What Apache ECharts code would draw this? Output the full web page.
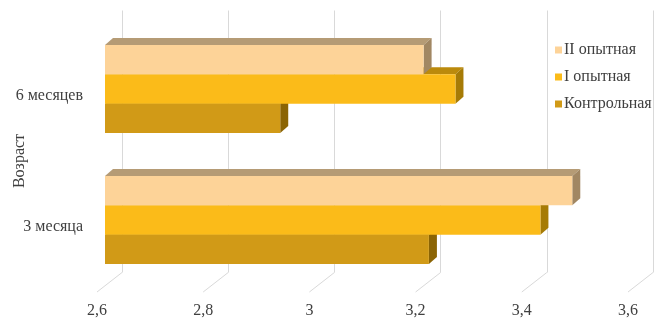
<!DOCTYPE html>
<html>
<head>
<meta charset="utf-8">
<script src="https://cdn.jsdelivr.net/npm/echarts@6/dist/echarts.min.js"></script>
<style>html,body{margin:0;padding:0;background:#fff}#c{width:668px;height:328px}</style>
</head>
<body>
<div id="c"></div>
<script>
var categories = ['3 месяца', '6 месяцев'];
var seriesNames = ['II опытная', 'I опытная', 'Контрольная'];
var valuesII = [3.48, 3.2];
var valuesI = [3.42, 3.26];
var valuesControl = [3.21, 2.93];
var xTicks = [2.6, 2.8, 3.0, 3.2, 3.4, 3.6];
var yAxisTitle = 'Возраст';

var FONT = '"Liberation Serif", "Times New Roman", serif';
var DX = 8, DY = -7; // bar depth (style)
var colors = {
  'II опытная': {front: '#FDD398', top: '#B59B75', side: '#A18763'},
  'I опытная': {front: '#FBBB19', top: '#BB8A0C', side: '#A67B06'},
  'Контрольная': {front: '#D19A17', top: '#9A7010', side: '#8B6404'}
};
var slot = {'II опытная': -1, 'I опытная': 0, 'Контрольная': 1};

function makeBarSeries(name, vals) {
  var c = colors[name];
  return {
    name: name,
    type: 'custom',
    xAxisIndex: 0, yAxisIndex: 0,
    itemStyle: {color: c.front},
    data: vals.map(function (v, i) { return [v, i]; }),
    renderItem: function (params, api) {
      var v = api.value(0), ci = api.value(1);
      var end = api.coord([v, ci]);
      var start = api.coord([xTicks[0], ci]);
      var band = api.size([0, 1])[1];
      var h = band * 0.224;
      var x0 = start[0], x1 = end[0];
      var y0 = end[1] + slot[name] * h - h / 2;
      return {
        type: 'group',
        children: [
          {type: 'polygon', shape: {points: [[x0, y0], [x0 + DX, y0 + DY], [x1 + DX, y0 + DY], [x1, y0]]}, style: {fill: c.top}},
          {type: 'polygon', shape: {points: [[x1, y0], [x1 + DX, y0 + DY], [x1 + DX, y0 + h + DY], [x1, y0 + h]]}, style: {fill: c.side}},
          {type: 'rect', shape: {x: x0, y: y0, width: x1 - x0, height: h}, style: {fill: c.front}}
        ]
      };
    }
  };
}

var chart = echarts.init(document.getElementById('c'), null, {renderer: 'canvas'});
chart.setOption({
  animation: false,
  backgroundColor: '#fff',
  grid: [
    {left: 105, top: 23.5, width: 531, height: 262, outerBoundsMode: 'none', containLabel: false},
    {left: 122, top: 10.5, width: 531, height: 262, outerBoundsMode: 'none', containLabel: false},
    {left: 97, top: 30, width: 531, height: 262, outerBoundsMode: 'none', containLabel: false}
  ],
  legend: {
    orient: 'vertical',
    left: 550, top: 37,
    itemWidth: 7, itemHeight: 7, itemGap: 11,
    icon: 'rect',
    data: seriesNames,
    textStyle: {fontFamily: FONT, fontSize: 16, color: '#404040', padding: [0, 0, 0, -3]}
  },
  xAxis: [
    {gridIndex: 0, type: 'value', min: 2.6, max: 3.6, interval: 0.2, show: false},
    {gridIndex: 1, type: 'value', min: 2.6, max: 3.6, interval: 0.2,
      axisLine: {show: false}, axisTick: {show: false}, axisLabel: {show: false},
      splitLine: {show: true, lineStyle: {color: '#d9d9d9', width: 1}}},
    {gridIndex: 2, type: 'value', min: 2.6, max: 3.6, interval: 0.2,
      axisLine: {show: false}, axisTick: {show: false}, splitLine: {show: false},
      axisLabel: {margin: 11, fontFamily: FONT, fontSize: 16, color: '#404040',
        formatter: function (v) { return String(+v.toFixed(1)).replace('.', ','); }}}
  ],
  yAxis: [
    {gridIndex: 0, type: 'category', data: categories, show: false},
    {gridIndex: 1, type: 'value', min: 0, max: 1, show: false},
    {gridIndex: 2, type: 'category', data: categories,
      axisLine: {show: false}, axisTick: {show: false}, splitLine: {show: false},
      axisLabel: {margin: 14, fontFamily: FONT, fontSize: 16, color: '#404040'},
      name: yAxisTitle, nameLocation: 'middle', nameGap: 69, nameRotate: 90, nameMoveOverlap: false,
      nameTextStyle: {fontFamily: FONT, fontSize: 16, color: '#404040'}}
  ],
  series: [
    {
      name: 'floor', type: 'custom', xAxisIndex: 1, yAxisIndex: 1, silent: true,
      data: xTicks.map(function (t) { return [t, 0]; }),
      renderItem: function (params, api) {
        var p = api.coord([api.value(0), 0]);
        return {type: 'line', shape: {x1: p[0], y1: p[1], x2: p[0] - 25, y2: p[1] + 19.5},
          style: {stroke: '#d9d9d9', lineWidth: 1}};
      }
    },
    makeBarSeries('Контрольная', valuesControl),
    makeBarSeries('I опытная', valuesI),
    makeBarSeries('II опытная', valuesII)
  ]
});
</script>
</body>
</html>
